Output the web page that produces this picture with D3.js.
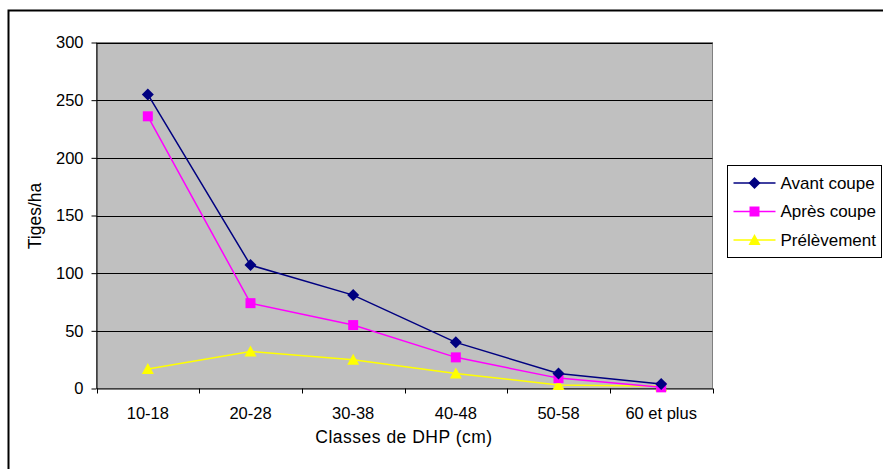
<!DOCTYPE html>
<html>
<head>
<meta charset="utf-8">
<script src="https://cdn.jsdelivr.net/npm/d3@7"></script>
<style>
  body { margin: 0; background: #fff; }
  svg { display: block; font-family: "Liberation Sans", Arial, sans-serif; }
</style>
</head>
<body>
<svg width="883" height="469"></svg>
<script>
const categories = ['10-18', '20-28', '30-38', '40-48', '50-58', '60 et plus'];
const avantCoupe = [255, 107, 81, 40, 13, 4];
const apresCoupe = [236, 74, 55, 27, 9, 1];
const prelevement = [17, 32, 25, 13, 3, 2];
const yTicks = [0, 50, 100, 150, 200, 250, 300];
const seriesNames = ['Avant coupe', 'Après coupe', 'Prélèvement'];

(function() {
	const svg = d3.select('svg');
	const font = '"Liberation Sans", Arial, sans-serif';

	const plot = { left: 96.5, right: 712.5, top: 42.5, bottom: 388.5 };

	// chart frame (only top & left visible)
	svg.append('path')
		.attr('d', 'M8.5,469 V10.5 H883')
		.attr('fill', 'none')
		.attr('stroke', '#000')
		.attr('stroke-width', 2);

	const x = d3.scaleBand()
		.domain(categories)
		.range([plot.left, plot.right]);

	const y = d3.scaleLinear()
		.domain([0, 300])
		.range([plot.bottom, plot.top]);

	svg.append('rect')
		.attr('x', plot.left)
		.attr('y', plot.top)
		.attr('width', plot.right - plot.left)
		.attr('height', plot.bottom - plot.top)
		.attr('fill', '#c0c0c0')
		.attr('stroke', '#808080');

	// gridlines
	svg.append('g')
		.selectAll('line')
		.data(yTicks.filter(d => d > 0))
		.join('line')
			.attr('x1', plot.left)
			.attr('x2', plot.right)
			.attr('y1', d => Math.round(y(d)) + 0.5)
			.attr('y2', d => Math.round(y(d)) + 0.5)
			.attr('stroke', '#000');

	// y axis
	const yAxis = svg.append('g')
		.attr('transform', `translate(${plot.left},0)`)
		.call(d3.axisLeft(y).tickValues(yTicks).tickSize(5).tickSizeOuter(0));
	yAxis.select('.domain').attr('stroke', '#000');
	yAxis.selectAll('.tick line').attr('stroke', '#000');
	yAxis.selectAll('.tick text')
		.attr('font-size', 16.5)
		.attr('font-family', font)
		.attr('fill', '#000')
		.attr('x', -13);

	// x axis
	const xAxis = svg.append('g')
		.attr('transform', `translate(0,${plot.bottom})`)
		.call(d3.axisBottom(x).tickSize(0).tickSizeOuter(0));
	xAxis.select('.domain').attr('stroke', '#000');
	xAxis.selectAll('.tick text')
		.attr('font-size', 16.5)
		.attr('font-family', font)
		.attr('fill', '#000')
		.attr('y', 30)
		.attr('dy', 0);
	// category separators
	xAxis.selectAll('.sep')
		.data(categories.concat(['end']))
		.join('line')
			.attr('class', 'sep')
			.attr('x1', (d, i) => Math.round(plot.left + i * x.bandwidth()) + 0.5)
			.attr('x2', (d, i) => Math.round(plot.left + i * x.bandwidth()) + 0.5)
			.attr('y1', 0)
			.attr('y2', 5)
			.attr('stroke', '#000');

	svg.append('text')
		.attr('transform', `translate(41,216) rotate(-90)`)
		.attr('text-anchor', 'middle')
		.attr('font-size', 17.5)
		.text('Tiges/ha');

	svg.append('text')
		.attr('x', 404)
		.attr('y', 443)
		.attr('text-anchor', 'middle')
		.attr('font-size', 17.5)
		.attr('letter-spacing', 0.5)
		.text('Classes de DHP (cm)');

	const cx = d => x(d) + x.bandwidth() / 2;

	// marker shapes
	const diamond = 'M0,-6L6,0L0,6L-6,0Z';
	const square = 'M-5,-5H5V5H-5Z';
	const triangle = 'M0,-6L6,5H-6Z';

	const series = [
		{ name: seriesNames[0], values: avantCoupe, color: '#000080', shape: diamond },
		{ name: seriesNames[1], values: apresCoupe, color: '#ff00ff', shape: square },
		{ name: seriesNames[2], values: prelevement, color: '#ffff00', shape: triangle }
	];

	const line = d3.line()
		.x((d, i) => cx(categories[i]))
		.y(d => y(d));

	// draw in reverse so first series is on top
	series.slice().reverse().forEach(s => {
		svg.append('path')
			.attr('d', line(s.values))
			.attr('fill', 'none')
			.attr('stroke', s.color)
			.attr('stroke-width', 1.5);
		svg.append('g')
			.selectAll('path')
			.data(s.values)
			.join('path')
				.attr('transform', (d, i) => `translate(${cx(categories[i])},${y(d)})`)
				.attr('d', s.shape)
				.attr('fill', s.color);
	});

	// legend
	const legend = svg.append('g')
		.attr('transform', 'translate(727.5,165.5)');
	legend.append('rect')
		.attr('width', 154)
		.attr('height', 92)
		.attr('fill', '#fff')
		.attr('stroke', '#000');

	const item = legend.selectAll('.item')
		.data(series)
		.join('g')
			.attr('class', 'item')
			.attr('transform', (d, i) => `translate(0,${17.5 + i * 28.5})`);
	item.append('line')
		.attr('x1', 6)
		.attr('x2', 48)
		.attr('stroke', d => d.color)
		.attr('stroke-width', 1.5);
	item.append('path')
		.attr('transform', 'translate(27,0)')
		.attr('d', d => d.shape)
		.attr('fill', d => d.color);
	item.append('text')
		.attr('x', 53)
		.attr('dy', '0.35em')
		.attr('font-size', 17)
		.text(d => d.name);
})()
</script>
</body>
</html>
